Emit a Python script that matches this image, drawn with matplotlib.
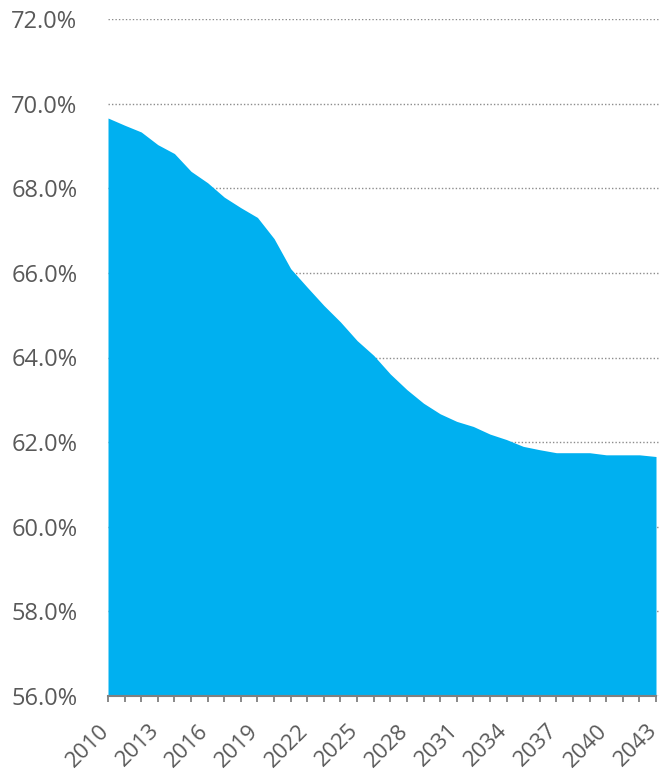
import numpy as np
import matplotlib.pyplot as plt
import matplotlib.transforms as mtransforms
from matplotlib.ticker import FuncFormatter, MultipleLocator

# Share of population, by year
years = list(range(2010, 2044))
share = [69.66, 69.49, 69.33, 69.03, 68.82, 68.40, 68.13, 67.79, 67.54, 67.31,
         66.81, 66.10, 65.66, 65.23, 64.84, 64.40, 64.05, 63.61, 63.24, 62.92,
         62.67, 62.49, 62.37, 62.19, 62.06, 61.90, 61.82, 61.75, 61.75, 61.75,
         61.70, 61.70, 61.70, 61.66]
label_years = list(range(2010, 2044, 3))

plt.rcParams['font.family'] = ['Open Sans', 'DejaVu Sans']

fig = plt.figure(figsize=(6.6, 7.76), dpi=100)
# axes runs a little past 2043 so the gridlines overshoot like the original
ax = fig.add_axes([108 / 660, 1 - 696 / 776, 560 / 660, 677 / 776])

ax.fill_between(years, share, 56, color='#00B0F0', linewidth=0, zorder=2)

x_pad = 12 / (548 / 33)
ax.set_xlim(2010, 2043 + x_pad)
ax.set_ylim(56, 72)
ax.yaxis.set_major_locator(MultipleLocator(2))
ax.yaxis.set_major_formatter(FuncFormatter(lambda v, p: f'{v:.1f}%'))
ax.grid(axis='y', color='#8c8c8c', linestyle=(0, (1, 1.5)), linewidth=1, zorder=1)
ax.set_axisbelow(True)

ax.set_xticks(years, minor=True)
ax.set_xticks(label_years)
ax.set_xticklabels([str(y) for y in label_years], rotation=45, ha='right',
                   va='center_baseline', rotation_mode='anchor')

for s in ['top', 'right', 'left']:
    ax.spines[s].set_visible(False)
ax.spines['bottom'].set_color('#808080')
ax.spines['bottom'].set_linewidth(1.5)
ax.spines['bottom'].set_bounds(2010, 2043)

ax.tick_params(axis='y', length=0, pad=22, labelsize=17, labelcolor='#595959')
ax.tick_params(axis='x', which='both', length=4.5, width=1.3, color='#808080',
               labelsize=16, labelcolor='#595959', pad=17)

# nudge the year labels left a touch so 2043 stays inside the canvas
shift = mtransforms.ScaledTranslation(-4 / 100, 0, fig.dpi_scale_trans)
for lab in ax.get_xticklabels():
    lab.set_transform(lab.get_transform() + shift)

fig.savefig('out.png', dpi=100)
